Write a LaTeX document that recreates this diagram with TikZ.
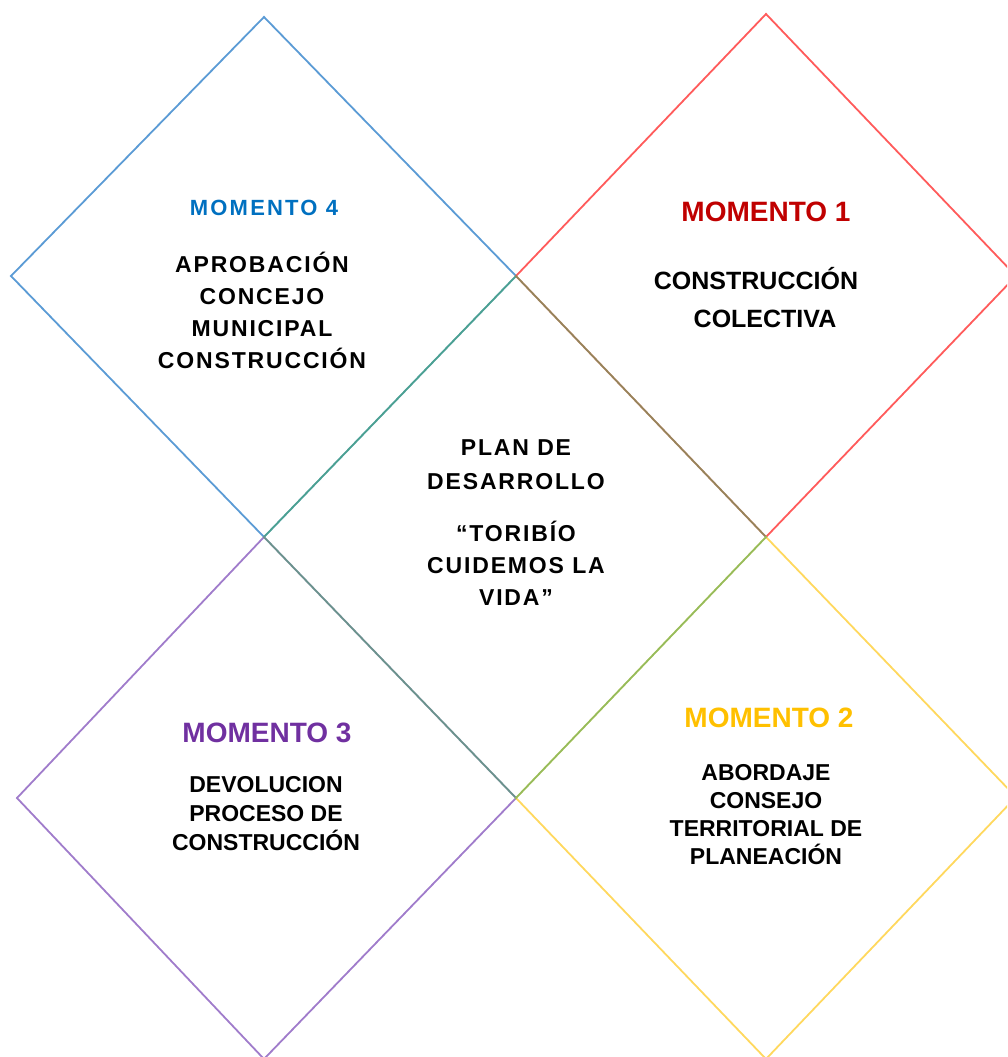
\documentclass[tikz,border=0pt]{standalone}
\usepackage{fontspec}
\setmainfont{Liberation Sans}
\newfontfamily\anchofont{Liberation Sans}[LetterSpace=8]
\newfontfamily\titanchofont{Liberation Sans}[LetterSpace=10]
% colores de los rombos y titulos
\definecolor{lineaazul}{HTML}{5B9BD5}
\definecolor{linearoja}{HTML}{FF5B5B}
\definecolor{lineamorada}{HTML}{A07CCB}
\definecolor{lineaamarilla}{HTML}{FFD85E}
\definecolor{lineaverde}{HTML}{3FA65A}
\definecolor{tazul}{HTML}{0070C0}
\definecolor{troja}{HTML}{C00000}
\definecolor{tmorado}{HTML}{7030A0}
\definecolor{tamarillo}{HTML}{FFC000}
\begin{document}
\begin{tikzpicture}[x=1pt,y=-1pt,
  rombo/.style={line width=1.8pt,line join=miter},
  titulo/.style={inner sep=0pt,font=\bfseries\fontsize{28}{30}\selectfont},
  texto/.style={align=center,inner sep=0pt,font=\bfseries\fontsize{23}{#1}\selectfont},
  textoancho/.style={align=center,inner sep=0pt,font=\anchofont\bfseries\fontsize{23}{#1}\selectfont}]
\clip (0,0) rectangle (1007,1057);
% rombos exteriores
\draw[rombo,lineaazul] (264,17) -- (516,276) -- (264,537) -- (11,276) -- cycle;
\draw[rombo,linearoja] (766,14) -- (1016,276) -- (766,537) -- (516,276) -- cycle;
\draw[rombo,lineamorada] (264,537) -- (516,798) -- (264,1059) -- (17,798) -- cycle;
\draw[rombo,lineaamarilla] (766,537) -- (1016,797) -- (766,1059) -- (516,798) -- cycle;
% rombo central
\draw[rombo,lineaverde,opacity=0.55] (516,276) -- (766,537) -- (516,798) -- (264,537) -- cycle;

\node[inner sep=0pt,text=tazul,font=\titanchofont\bfseries\fontsize{22}{24}\selectfont] (m4) at (264,208) {MOMENTO 4};
\node[textoancho=32] (t4) at (262,310) {APROBACIÓN\\CONCEJO\\MUNICIPAL\\CONSTRUCCIÓN};

\node[titulo,text=troja] (m1) at (766,212) {MOMENTO 1};
\node[texto=38,font=\bfseries\fontsize{25}{38}\selectfont] (t1) at (756,298) {CONSTRUCCIÓN\\\hspace*{18pt}COLECTIVA};

\node[textoancho=34] (plan) at (516,465) {PLAN DE\\DESARROLLO};
\node[textoancho=32] (lema) at (516,563) {“TORIBÍO\\CUIDEMOS LA\\VIDA”};

\node[titulo,text=tmorado] (m3) at (267,733) {MOMENTO 3};
\node[texto=29] (t3) at (266,814) {DEVOLUCION\\PROCESO DE\\CONSTRUCCIÓN};

\node[titulo,text=tamarillo] (m2) at (769,718) {MOMENTO 2};
\node[texto=28] (t2) at (766,815) {ABORDAJE\\CONSEJO\\TERRITORIAL DE\\PLANEACIÓN};
\end{tikzpicture}
\end{document}
